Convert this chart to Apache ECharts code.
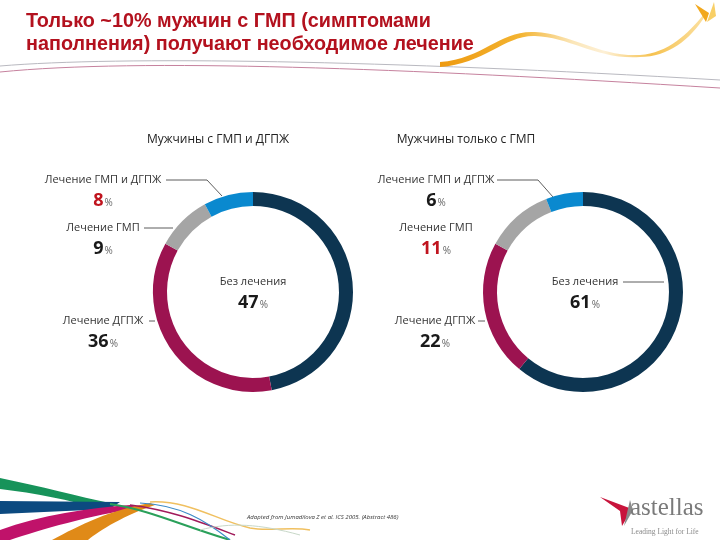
<!DOCTYPE html>
<html>
<head>
<meta charset="utf-8">
<script src="https://cdn.jsdelivr.net/npm/echarts@6/dist/echarts.min.js"></script>
<style>
  html, body { margin: 0; padding: 0; background: #fff; }
  #main { width: 720px; height: 540px; }
</style>
</head>
<body>
<div id="main"></div>
<script>
// data
const categories = ['Без лечения', 'Лечение ДГПЖ', 'Лечение ГМП', 'Лечение ГМП и ДГПЖ'];
const colors = ['#0d3551', '#9c1350', '#a5a5a5', '#0a89cf'];
const bphValues = [47, 36, 9, 8];      // Мужчины с ГМП и ДГПЖ
const oabValues = [61, 22, 11, 6];     // Мужчины только с ГМП
const bphHighlight = 3;                // red number
const oabHighlight = 2;
const chartTitles = ['Мужчины с ГМП и ДГПЖ', 'Мужчины только с ГМП'];

const chart = echarts.init(document.getElementById('main'));

const baseFont = '"Open Sans", "Noto Sans", sans-serif';

function pieSeries(values, cx) {
  return {
    type: 'pie',
    center: [cx, 292],
    radius: [86, 100],
    startAngle: 90,
    clockwise: true,
    silent: true,
    label: { show: false },
    labelLine: { show: false },
    itemStyle: { borderWidth: 0 },
    data: values.map((v, i) => ({ value: v, name: categories[i], itemStyle: { color: colors[i] } }))
  };
}

// label layout: [category index, x, y] for each chart
const bphLabels = [[0, 253, 282], [3, 103, 180], [2, 103, 228], [1, 103, 321]];
const oabLabels = [[0, 585, 282], [3, 436, 180], [2, 436, 228], [1, 435, 321]];

function labelGraphics(values, layout, highlight) {
  const out = [];
  layout.forEach(([idx, x, y]) => {
    out.push({
      type: 'text', x: x, y: y,
      style: { text: categories[idx], fill: '#333', font: '11px ' + baseFont, align: 'center', verticalAlign: 'middle' }
    });
    out.push({
      type: 'text', x: x, y: y + 21,
      style: {
        text: '{n|' + values[idx] + '}{p|%}',
        align: 'center', verticalAlign: 'middle',
        rich: {
          n: { fontFamily: baseFont, fontWeight: 'bold', fontSize: 18, fill: idx === highlight ? '#c0141e' : '#1a1a1a' },
          p: { fontFamily: baseFont, fontSize: 10, fill: '#666', padding: [4, 0, 0, 1] }
        }
      }
    });
  });
  return out;
}

function line(points) {
  return { type: 'polyline', shape: { points: points }, style: { stroke: '#333', lineWidth: 0.8, fill: null } };
}

const leaderLines = [
  line([[166, 180], [207, 180], [222, 196]]),
  line([[144, 228], [173, 228]]),
  line([[149, 321], [155, 321]]),
  line([[497, 180], [538, 180], [553, 197]]),
  line([[623, 282], [664, 282]]),
  line([[478, 321], [485, 321]])
];

// svg path decorations registered as custom shapes
let shapeCount = 0;
function svgPath(d, style) {
  const name = 'deco' + (shapeCount++);
  echarts.graphic.registerShape(name, echarts.graphic.extendPath(d, {}));
  return { type: name, style: style, silent: true };
}

const decorations = [
  // header swoosh lines
  svgPath('M0,66 C120,56 380,60 720,80', { stroke: '#b9b9c0', lineWidth: 1, fill: null }),
  svgPath('M0,72 C140,58 400,68 720,88', { stroke: '#c6829e', lineWidth: 1, fill: null }),
  // yellow swoosh
  svgPath('M440,62 C485,58 500,30 535,32 C572,34 600,57 640,55 C668,53 688,34 704,14 L705,16 C690,40 668,57 640,57 C598,60 570,37 535,36 C505,35 484,64 440,67 Z', {
    fill: new echarts.graphic.LinearGradient(0, 0, 1, 0, [
      { offset: 0, color: '#ee9a10' }, { offset: 0.3, color: '#f3b330' }, { offset: 0.5, color: '#fbe6b8' },
      { offset: 0.62, color: '#fdf0d6' }, { offset: 0.8, color: '#f6c250' }, { offset: 1, color: '#fbe0a0' }
    ])
  }),
  svgPath('M695,4 L709,13 L706,22 Z', { fill: '#f2a81c' }),
  svgPath('M707,22 L714,2 L716,16 Z', { fill: '#f8cf66' }),
  // bottom-left ribbons
  svgPath('M0,478 C40,486 80,497 110,503 L100,509 C70,500 35,493 0,489 Z', { fill: '#17935a' }),
  svgPath('M0,501 L120,502 L110,509 L0,514 Z', { fill: '#0c4a80' }),
  svgPath('M0,530 C40,515 90,508 130,505 L140,508 C90,515 40,530 10,540 L0,540 Z', { fill: '#c0126a' }),
  svgPath('M52,540 C80,525 110,510 150,503 L155,505 C125,515 100,530 88,540 Z', { fill: '#e08a18' }),
  svgPath('M110,504 C150,510 180,525 230,540', { stroke: '#2aa05a', lineWidth: 2, fill: null }),
  svgPath('M130,505 C170,510 200,522 235,535', { stroke: '#a01a5a', lineWidth: 1.5, fill: null }),
  svgPath('M140,503 C180,505 205,520 230,540', { stroke: '#3a8ac8', lineWidth: 1.2, fill: null }),
  svgPath('M150,502 C190,500 215,520 250,528 C270,532 290,526 310,530', { stroke: '#f0c060', lineWidth: 1.5, fill: null }),
  svgPath('M200,530 C230,522 260,524 300,535', { stroke: '#c8d8c8', lineWidth: 1, fill: null }),
  // astellas logo
  svgPath('M600,497 L632,509 L622,526 L620,511 Z', { fill: '#c8143c' }),
  svgPath('M630,500 L633,510 L624,526 Z', { fill: '#8a8a8a' }),
  { type: 'text', x: 630, y: 521, style: { text: 'astellas', font: '25px "Liberation Serif", serif', fill: '#7a7a7a', verticalAlign: 'bottom' } },
  { type: 'text', x: 631, y: 532, style: { text: 'Leading Light for Life', font: '7.5px "Liberation Serif", serif', fill: '#8a8a8a', verticalAlign: 'middle' } },
  // footnote
  { type: 'text', x: 247, y: 517, style: { text: 'Adapted from Jumadilova Z et al. ICS 2005. (Abstract 486)', font: 'italic 6px "Open Sans", sans-serif', fill: '#333', verticalAlign: 'middle' } }
];

const option = {
  animation: false,
  backgroundColor: '#fff',
  title: [
    {
      text: 'Только ~10% мужчин с ГМП (симптомами\nнаполнения) получают необходимое лечение',
      left: 21, top: 5,
      textStyle: { fontFamily: '"Liberation Sans", Arial, sans-serif', fontWeight: 'bold', fontSize: 19.8, lineHeight: 23, color: '#b3111e' }
    },
    { text: chartTitles[0], left: 213, top: 129, textAlign: 'center', textStyle: { fontFamily: baseFont, fontWeight: 'normal', fontSize: 12, color: '#222' } },
    { text: chartTitles[1], left: 461, top: 129, textAlign: 'center', textStyle: { fontFamily: baseFont, fontWeight: 'normal', fontSize: 12, color: '#222' } }
  ],
  series: [pieSeries(bphValues, 253), pieSeries(oabValues, 583)],
  graphic: decorations.concat(leaderLines, labelGraphics(bphValues, bphLabels, bphHighlight), labelGraphics(oabValues, oabLabels, oabHighlight))
};

chart.setOption(option);
</script>
</body>
</html>
